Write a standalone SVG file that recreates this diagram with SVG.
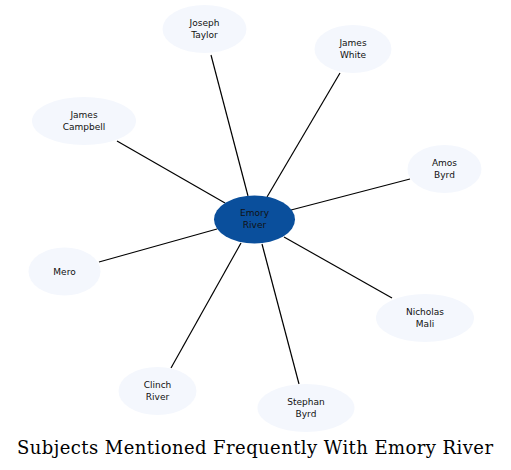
<svg xmlns="http://www.w3.org/2000/svg" width="511" height="470" viewBox="0 0 511 470">
<style>
.n ellipse{fill:#f4f7fd;stroke:none}
.c ellipse{fill:#0a4f9c;stroke:none}
text.l{font-family:"DejaVu Sans",sans-serif;font-size:9px;fill:#111;text-anchor:middle}
#edges line{stroke:#000;stroke-width:1.2}
.t{font-family:"DejaVu Serif",serif;font-size:18px;fill:#000}
</style>
<rect width="511" height="470" fill="#fff"/>
<g id="edges">
<line x1="211" y1="55" x2="248" y2="196"/>
<line x1="340" y1="73" x2="267" y2="197"/>
<line x1="117" y1="141" x2="225" y2="203"/>
<line x1="410" y1="179" x2="291" y2="210"/>
<line x1="99" y1="262" x2="217" y2="229"/>
<line x1="392" y1="298" x2="284" y2="237"/>
<line x1="171" y1="368" x2="241" y2="243"/>
<line x1="299" y1="384" x2="262" y2="244"/>
</g>
<g id="emory-river" class="c"><ellipse cx="254.5" cy="219.5" rx="40.5" ry="24"/><text class="l" x="254.5" y="216">Emory</text><text class="l" x="254.5" y="228">River</text></g>
<g id="joseph-taylor" class="n"><ellipse cx="204.5" cy="29" rx="42" ry="24"/><text class="l" x="204.5" y="26">Joseph</text><text class="l" x="204.5" y="38">Taylor</text></g>
<g id="james-white" class="n"><ellipse cx="353" cy="49" rx="38.5" ry="24"/><text class="l" x="353" y="46">James</text><text class="l" x="353" y="58">White</text></g>
<g id="james-campbell" class="n"><ellipse cx="84" cy="121" rx="52" ry="24"/><text class="l" x="84" y="118">James</text><text class="l" x="84" y="130">Campbell</text></g>
<g id="amos-byrd" class="n"><ellipse cx="444.5" cy="169" rx="37" ry="24"/><text class="l" x="444.5" y="166">Amos</text><text class="l" x="444.5" y="178">Byrd</text></g>
<g id="mero" class="n"><ellipse cx="64.5" cy="271.5" rx="36" ry="24"/><text class="l" x="64.5" y="274.5">Mero</text></g>
<g id="nicholas-mali" class="n"><ellipse cx="425" cy="318" rx="49" ry="24"/><text class="l" x="425" y="315">Nicholas</text><text class="l" x="425" y="327">Mali</text></g>
<g id="clinch-river" class="n"><ellipse cx="157.5" cy="391" rx="39" ry="24"/><text class="l" x="157.5" y="388">Clinch</text><text class="l" x="157.5" y="400">River</text></g>
<g id="stephan-byrd" class="n"><ellipse cx="306" cy="408" rx="48.5" ry="24"/><text class="l" x="306" y="405">Stephan</text><text class="l" x="306" y="417">Byrd</text></g>
<text class="t" x="17" y="454" textLength="476" lengthAdjust="spacing">Subjects Mentioned Frequently With Emory River</text>
</svg>
